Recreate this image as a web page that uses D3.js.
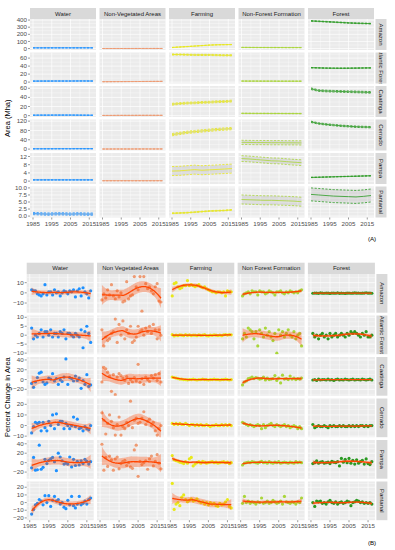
<!DOCTYPE html>
<html>
<head>
<meta charset="utf-8">
<script src="https://cdnjs.cloudflare.com/ajax/libs/d3/7.8.5/d3.min.js"></script>
<style>
  body { margin: 0; background: #fff; }
  svg { display: block; font-family: "Liberation Sans", Arial, sans-serif; }
</style>
</head>
<body>
<svg width="395" height="550"></svg>
<script>
var biomes = ["Amazon", "Atlantic Forest", "Caatinga", "Cerrado", "Pampa", "Pantanal"];
var classesA = ["Water", "Non-Vegetated Areas", "Farming", "Non-Forest Formation", "Forest"];
var classesB = ["Water", "Non Vegetated Areas", "Farming", "Non Forest Formation", "Forest"];
var classColors = ["#1E90FF", "#EE9A72", "#E8E81A", "#A9D63A", "#2A9A22"];

var yearsA = [1985, 1989, 1993, 1997, 2001, 2005, 2009, 2013, 2017];
var yearsB = [1986, 1987, 1988, 1989, 1990, 1991, 1992, 1993, 1994, 1995, 1996,
  1997, 1998, 1999, 2000, 2001, 2002, 2003, 2004, 2005, 2006, 2007, 2008, 2009,
  2010, 2011, 2012, 2013, 2014, 2015, 2016, 2017];

// (A) area in Mha, one row per class (water, non-veg, farming, non-forest, forest)
var amazonArea = [
  [9.8, 9.9, 10, 10.1, 10.2, 10.1, 10, 10.3, 10.2],
  [0.8, 0.9, 1, 1, 1.1, 1.2, 1.2, 1.3, 1.3],
  [15, 22, 28, 35, 42, 49, 53, 55, 56],
  [16, 15.5, 15, 15, 14.5, 14.5, 14, 14, 14],
  [388, 383, 377, 372, 366, 360, 356, 353, 350]
];
var atlanticArea = [
  [2.5, 2.6, 2.6, 2.7, 2.7, 2.7, 2.8, 2.8, 2.7],
  [1.0, 1.1, 1.2, 1.3, 1.4, 1.5, 1.6, 1.7, 1.8],
  [69, 69, 68.5, 68, 68, 68, 67.5, 67, 67],
  [2.6, 2.5, 2.5, 2.4, 2.4, 2.3, 2.3, 2.3, 2.3],
  [36, 35.5, 35, 34.8, 34.7, 34.8, 35, 35.3, 35.5]
];
var caatingaArea = [
  [1.0, 1.1, 1.1, 1.2, 1.2, 1.2, 1.1, 1.0, 0.9],
  [0.4, 0.4, 0.5, 0.5, 0.5, 0.6, 0.6, 0.6, 0.6],
  [25, 26.5, 27.5, 28, 29, 29.5, 30.5, 31, 32],
  [5, 4.9, 4.8, 4.8, 4.7, 4.7, 4.6, 4.6, 4.5],
  [59, 55, 54, 53.5, 53, 52.5, 52, 51.5, 51]
];
var cerradoArea = [
  [1.2, 1.3, 1.3, 1.4, 1.5, 1.5, 1.6, 1.6, 1.6],
  [0.4, 0.4, 0.5, 0.5, 0.5, 0.6, 0.6, 0.6, 0.7],
  [62, 67, 72, 75, 78, 81, 84, 86, 88],
  [29, 28.5, 28, 28, 27.5, 27.5, 27, 27, 26.5],
  [117, 110, 106, 103, 100, 98, 96, 95, 94]
];
var pampaArea = [
  [0.6, 0.6, 0.6, 0.6, 0.6, 0.6, 0.6, 0.6, 0.6],
  [0.2, 0.2, 0.2, 0.2, 0.2, 0.2, 0.2, 0.2, 0.2],
  [4.9, 5.0, 5.3, 5.6, 5.3, 5.5, 5.7, 5.9, 6.1],
  [11, 10.8, 10.5, 10.2, 9.9, 9.8, 9.5, 9.2, 9.0],
  [1.8, 1.9, 2.0, 2.1, 2.2, 2.3, 2.4, 2.5, 2.6]
];
var pantanalArea = [
  [0.9, 0.8, 0.7, 0.8, 0.8, 0.7, 0.8, 0.7, 0.7],
  [],
  [1.0, 1.1, 1.2, 1.4, 1.6, 1.8, 1.9, 2.0, 2.2],
  [5.9, 5.8, 5.7, 5.6, 5.6, 5.5, 5.4, 5.3, 5.1],
  [7.7, 7.5, 7.3, 7.1, 7.0, 6.9, 6.8, 7.0, 7.3]
];
// half width of the dashed band around each area line
var amazonBand = [0.5, 0.1, 2, 2, 5];
var atlanticBand = [0.2, 0.1, 1.5, 0.2, 0.6];
var caatingaBand = [0.2, 0.1, 2, 0.5, 1.8];
var cerradoBand = [0.2, 0.1, 5, 9, 3];
var pampaBand = [0.1, 0.05, 2.2, 1.4, 0.1];
var pantanalBand = [0.4, 0, 0.15, 1.6, 2.3];

// (B) annual percent change in area
var amazonChange = [
  [3, 2, 2, -1, -2, -3, -1, 8, -2, 1, 1, -2, 3, 0, 1, -3, 0, 2, 1, -1, 2, 1, 3, -4, 2, 4, -3, 5, 1, -1, -5, 2],
  [-7, -1, -5, 3, -2, 8, -3, -6, 2, -4, 0, -9, -8, 11, -6, -3, -2, 16, 6, 3, 16, -18, 16, 9, 4, 6, 2, -1, 6, 9, -8, -9],
  [-3, 9, 10, 6, 4, 5, 7, 7, 12, 7, 8, 7, 6, 7, 8, 6, 5, 6, 4, 3, 2, 1, 1, 0, 1, 1, 0, 1, -3, 2, 1, 1],
  [-3, -1, 0, 1, -1, 2, 1, 1, -2, 2, 1, 1, -1, 0, 2, 1, 0, -2, 1, 1, 2, 0, -1, 1, 0, 2, 1, 0, 1, 0, 2, 3],
  [-0.4, -0.2, -0.3, -0.5, -0.1, -0.3, -0.4, -0.2, -0.3, -0.6, -0.2, -0.3, -0.4, -0.1, -0.5, -0.3,
   -0.4, -0.6, -0.3, -0.2, -0.4, -0.3, -0.1, -0.3, -0.2, -0.4, -0.3, -0.2, 0.1, -0.3, -0.2, -0.4]
];
var atlanticChange = [
  [4, -2, 0, -1, 1, 3, -1, 2, 2, 0, 3, -1, 1, 1, -1, 2, 1, 3, -2, 1, 1, 0, -1, 1, 0, -1, 3, -7, 2, 5, 1, -4],
  [3, -6, -1, -3, -2, 1, 2, 9, -4, 6, 0, 8, -2, 3, 1, 5, -4, -3, -1, 5, 2, 3, 0, 4, 2, 5, 1, 6, 3, -2, 3, 0],
  [0.3, -0.4, 0.1, -0.2, 0.2, 0, -0.3, 0.4, -0.1, 0.2, -0.2, 0.1, 0, -0.3, 0.2, -0.1,
   0, 0.3, -0.2, -0.4, 0.1, -0.1, 0.2, 0, -0.2, 0.1, -0.3, 0.2, 0.4, 0.1, 0.3, 0.2],
  [-2, 1, -1, 4, 3, 2, -2, 2, -6, 3, 1, -1, 4, 0, 2, -1, -3, 1, -10, 3, 0, 2, -1, 1, 3, 0, -1, 2, -2, 0, 1, -6],
  [1, -1, 0, -2, 0, 1, -1, 0, -2, 1, -1, 0, 1, -1, 0, 1, 0, -1, 1, 0, 2, 1, 2, 1, 0, -1, 1, 0, 2, -1, -1, 0]
];
var caatingaChange = [
  [-8, -16, -5, 4, 13, 15, -5, -10, -7, 3, 1, 12, -3, 2, -10, 0, -4, 5, 42, -10, 4, 2, -3, 7, -2, 3, -18, -2, -10, 10, -14, -11],
  [-5, 25, 22, 15, 7, -24, 10, -31, 5, 12, 8, 3, -2, 6, -8, 0, -5, 4, -3, 31, -6, 2, -10, 5, 0, -4, 8, 3, 10, -2, 12, -5],
  [5, 4, 3, 2, 1, 1, 0, 0, -1, 0, 0, 1, 0, -1, 0, 0, 1, 0, 0, -1, 0, 0, 1, 0, 0, -1, 0, 0, 1, 0, -1, 0],
  [-11, -5, -3, 2, 3, 5, 2, 4, 3, 1, 2, 5, -1, 3, 0, 1, 2, 8, -2, 3, -7, 9, 1, 2, 0, 7, 1, 3, 0, 2, 1, 3],
  [-1, 0, -2, 1, -1, 0, 0, -1, 1, -1, 0, -2, 0, 1, -1, 0, -1, 1, 0, -1, 0, 1, -1, 0, 0, -1, 1, 0, -1, 0, 1, -1]
];
var cerradoChange = [
  [-7, -1, 3, 2, 3, -5, 3, -2, -5, 4, 0, 10, -3, 11, 1, 4, 4, -3, 2, 0, -3, 0, 8, -1, 6, -3, -2, -5, -1, -3, -4, 0],
  [12, 5, -8, 2, 10, 4, -2, -9, 1, 8, -9, -1, -3, 3, 0, 23, -2, 5, 7, 2, 3, 7, 13, 1, 4, 6, 0, 3, -5, -9, -3, 0],
  [2, 1, 2, 1, 2, 1, 1, 2, 1, 0, 1, 1, 0, 1, 0, 1, 0, 0, 1, 0, -1, 0, 0, 1, 0, 0, 1, 0, 1, 0, 1, 0],
  [3, 2, 1, 0, 1, 0, -1, 0, 1, 0, -3, 1, -2, 0, 1, 2, 0, -1, 1, 0, -1, 0, 1, -1, 0, -2, -1, 0, -1, -3, -1, -3],
  [1, -2, -1, 0, -1, -1, 0, -1, -2, 0, -1, 0, -1, -1, 0, -1, 0, -1, -1, 0, -1, 0, -1, 0, -1, 0, 0, -1, 0, -1, 0, 0]
];
var pampaChange = [
  [-11, 11, -16, -15, 37, -14, -10, 7, -2, 5, 8, 11, 2, -17, 20, 12, 4, -3, -1, -3, 12, -9, 7, -6, 3, -5, 4, -2, 7, 3, -3, 2],
  [39, -16, 11, -8, 14, 6, -16, 8, 12, -13, -2, 3, 5, -6, 0, -9, -12, 27, 37, -29, 3, -4, 0, 4, -14, 8, 14, -7, 3, 17, -1, -13],
  [15, 6, 4, 3, 1, 0, -2, 2, -1, 8, 11, -7, -3, 0, 2, -1, 3, 1, -1, 0, 1, 2, 0, 1, -1, 0, 1, 2, 0, 1, -2, 0],
  [-5, -1, 0, 1, 0, 2, 1, 0, -1, 1, 3, 0, 1, -1, 2, 0, -1, 1, 0, 2, -1, 0, 1, 0, -1, 1, 0, -1, 2, 0, 1, 0],
  [-2, 0, 4, -1, 1, 2, -1, 0, 1, -2, 3, 1, 0, 2, -7, 9, 1, 7, 0, 9, -1, 5, -3, 6, -1, 2, 5, -3, 8, -2, -4, 2]
];
var pantanalChange = [
  [-15, -9, -3, -1, 4, 2, -3, 9, 0, 9, -5, 3, 8, 2, 4, -2, 0, -6, -8, 3, -3, 8, -4, -7, -2, 8, -3, -1, 2, -2, 4, 6],
  [],
  [25, -9, -2, 0, -4, 7, 10, 4, 1, 3, 5, 2, 3, 5, 2, 0, 1, -2, 0, -3, 0, -2, -1, -4, -5, -1, -3, -2, 1, 4, -5, -7],
  [-1, 8, 0, 2, -1, 1, 0, -2, 1, 0, 6, -1, 0, 2, -1, 0, 3, 1, -1, 0, 2, -2, 8, 1, 0, -1, 1, 0, -2, 1, 0, 6],
  [0, -5, 2, 1, 2, -1, 0, -2, 1, 3, 0, -1, 1, -2, 0, 1, -1, 0, 2, 1, -4, 0, 1, 3, 2, 0, 1, -1, 0, -1, 0, -2]
];

var areaRows = [amazonArea, atlanticArea, caatingaArea, cerradoArea, pampaArea, pantanalArea];
var bandRows = [amazonBand, atlanticBand, caatingaBand, cerradoBand, pampaBand, pantanalBand];
var changeRows = [amazonChange, atlanticChange, caatingaChange, cerradoChange, pampaChange, pantanalChange];

var areaDomains = [[-20, 415], [-3.5, 74], [-3, 65], [-6, 127], [-1.4, 13.7], [-0.5, 10.5]];
var areaTicks = [[0, 100, 200, 300, 400], [0, 20, 40, 60], [0, 20, 40, 60], [0, 40, 80, 120], [0, 4, 8, 12], [0, 2.5, 5, 7.5, 10]];
var changeDomains = [[-19.5, 18.5], [-10.6, 11], [-33, 46], [-11, 25.5], [-34, 48], [-23, 27.5]];
var changeTicks = [[-10, 0, 10], [-10, -5, 0, 5, 10], [-20, 0, 20, 40], [-10, 0, 10, 20], [-20, 0, 20, 40], [-20, -10, 0, 10, 20]];
var yearTicks = [1985, 1995, 2005, 2015];
var yearMinor = [1990, 2000, 2010];

var svg = d3.select("svg");
var defs = svg.append("defs");

function inv3(m) {
    var a = m[0][0], b = m[0][1], c = m[0][2],
        d = m[1][0], e = m[1][1], f = m[1][2],
        g = m[2][0], h = m[2][1], k = m[2][2];
    var A = e * k - f * h, B = -(d * k - f * g), C = d * h - e * g;
    var det = a * A + b * B + c * C;
    return [A / det, -(b * k - c * h) / det, (b * f - c * e) / det];
}

// weights of a local quadratic fit (loess, span 0.75) at x0
function smootherRow(xs, x0) {
    var q = Math.floor(0.75 * xs.length);
    var d = xs.map(function (x) { return Math.abs(x - x0); });
    var dq = d.slice().sort(d3.ascending)[q - 1];
    var w = d.map(function (v) {
        var u = v / dq;
        return u < 1 ? Math.pow(1 - u * u * u, 3) : 0;
    });
    var S = [[0, 0, 0], [0, 0, 0], [0, 0, 0]];
    xs.forEach(function (x, i) {
        var t = (x - x0) / 10, b = [1, t, t * t];
        for (var j = 0; j < 3; j++)
            for (var k = 0; k < 3; k++) S[j][k] += w[i] * b[j] * b[k];
    });
    var r0 = inv3(S);
    return xs.map(function (x, i) {
        var t = (x - x0) / 10;
        return w[i] * (r0[0] + r0[1] * t + r0[2] * t * t);
    });
}

function loessFit(xs, ys) {
    var n = xs.length;
    var L = xs.map(function (x) { return smootherRow(xs, x); });
    var fitted = L.map(function (l) { return d3.sum(l, function (v, j) { return v * ys[j]; }); });
    var rss = d3.sum(ys, function (y, i) { return (y - fitted[i]) * (y - fitted[i]); });
    var delta1 = 0;
    for (var i = 0; i < n; i++)
        for (var j = 0; j < n; j++) {
            var m = (i === j ? 1 : 0) - L[i][j];
            delta1 += m * m;
        }
    var sigma = Math.sqrt(rss / delta1);
    var x0 = xs[0], x1 = xs[n - 1];
    return d3.range(81).map(function (i) {
        var x = x0 + i * (x1 - x0) / 80;
        var l = smootherRow(xs, x);
        var yhat = d3.sum(l, function (v, j) { return v * ys[j]; });
        var se = sigma * Math.sqrt(d3.sum(l, function (v) { return v * v; }));
        return {x: x, y: yhat, lo: yhat - 2.05 * se, hi: yhat + 2.05 * se};
    });
}

function minorOf(ticks, domain) {
    var step = ticks[1] - ticks[0], out = [];
    for (var i = -1; i < ticks.length; i++) {
        var v = ticks[0] + (i + 0.5) * step;
        if (v > domain[0] && v < domain[1]) out.push(v);
    }
    return out;
}

function drawFacets(cfg) {
    var x = d3.scaleLinear().domain([1983.4, 2018.6]).range([0, cfg.colW]);
    var clipId = "clip" + cfg.name;
    defs.append("clipPath").attr("id", clipId)
        .append("rect").attr("width", cfg.colW).attr("height", cfg.rowH);
    var stripClip = "strip" + cfg.name;
    defs.append("clipPath").attr("id", stripClip)
        .append("rect").attr("width", 11).attr("height", cfg.rowH);

    var colX = function (c) { return cfg.left + c * (cfg.colW + cfg.colGap); };
    var rowY = function (r) { return cfg.top + r * (cfg.rowH + cfg.rowGap); };

    // column strips
    cfg.classes.forEach(function (name, c) {
        var g = svg.append("g").attr("transform", "translate(" + colX(c) + "," + (cfg.top - cfg.stripH) + ")");
        g.append("rect").attr("width", cfg.colW).attr("height", cfg.stripH).attr("fill", "#d9d9d9");
        g.append("text").attr("x", cfg.colW / 2).attr("y", cfg.stripH / 2 + 2)
            .attr("text-anchor", "middle").attr("font-size", 6).attr("fill", "#1a1a1a").text(name);
    });

    biomes.forEach(function (biome, r) {
        var y = d3.scaleLinear().domain(cfg.domains[r]).range([cfg.rowH, 0]);
        var ticks = cfg.ticks[r];
        var minor = minorOf(ticks, cfg.domains[r]);
        var fmt = ticks.some(function (t) { return t % 1 !== 0; }) ? d3.format(".1f") : d3.format("d");

        cfg.classes.forEach(function (cls, c) {
            var g = svg.append("g").attr("transform", "translate(" + colX(c) + "," + rowY(r) + ")");
            g.append("rect").attr("width", cfg.colW).attr("height", cfg.rowH).attr("fill", "#ebebeb");
            g.selectAll(".ymin").data(minor).enter().append("line")
                .attr("x2", cfg.colW).attr("y1", y).attr("y2", y)
                .attr("stroke", "#fff").attr("stroke-width", 0.35);
            g.selectAll(".xmin").data(yearMinor).enter().append("line")
                .attr("x1", x).attr("x2", x).attr("y2", cfg.rowH)
                .attr("stroke", "#fff").attr("stroke-width", 0.35);
            g.selectAll(".ymaj").data(ticks).enter().append("line")
                .attr("x2", cfg.colW).attr("y1", y).attr("y2", y)
                .attr("stroke", "#fff").attr("stroke-width", 0.7);
            g.selectAll(".xmaj").data(yearTicks).enter().append("line")
                .attr("x1", x).attr("x2", x).attr("y2", cfg.rowH)
                .attr("stroke", "#fff").attr("stroke-width", 0.7);

            var layer = g.append("g").attr("clip-path", "url(#" + clipId + ")");
            cfg.drawCell(layer, r, c, x, y);

            // y axis on first column
            if (c === 0) {
                var ax = svg.append("g").attr("transform", "translate(" + colX(0) + "," + rowY(r) + ")");
                ax.selectAll("line").data(ticks).enter().append("line")
                    .attr("x1", -2).attr("x2", 0).attr("y1", y).attr("y2", y)
                    .attr("stroke", "#333").attr("stroke-width", 0.5);
                ax.selectAll("text").data(ticks).enter().append("text")
                    .attr("x", -3).attr("y", function (d) { return y(d) + 2.1; })
                    .attr("text-anchor", "end").attr("font-size", 6.2).attr("fill", "#4d4d4d")
                    .text(fmt);
            }
            // x axis on last row
            if (r === biomes.length - 1) {
                var bx = svg.append("g").attr("transform", "translate(" + colX(c) + "," + (rowY(r) + cfg.rowH) + ")");
                bx.selectAll("line").data(yearTicks).enter().append("line")
                    .attr("x1", x).attr("x2", x).attr("y1", 0).attr("y2", 2)
                    .attr("stroke", "#333").attr("stroke-width", 0.5);
                bx.selectAll("text").data(yearTicks).enter().append("text")
                    .attr("x", x).attr("y", 8.2)
                    .attr("text-anchor", "middle").attr("font-size", 6.2).attr("fill", "#4d4d4d")
                    .text(function (d) { return d; });
            }
        });

        // row strip
        var sx = colX(cfg.classes.length - 1) + cfg.colW + 1.5;
        var sg = svg.append("g").attr("transform", "translate(" + sx + "," + rowY(r) + ")");
        sg.append("rect").attr("width", 11).attr("height", cfg.rowH).attr("fill", "#d9d9d9");
        sg.append("g").attr("clip-path", "url(#" + stripClip + ")")
            .append("text")
            .attr("transform", "translate(3.4," + (cfg.rowH / 2) + ") rotate(90)")
            .attr("text-anchor", "middle").attr("font-size", 6).attr("fill", "#1a1a1a")
            .text(biome);
    });

    svg.append("text")
        .attr("transform", "translate(10," + (cfg.top + (6 * cfg.rowH + 5 * cfg.rowGap) / 2) + ") rotate(-90)")
        .attr("text-anchor", "middle").attr("font-size", 7.5).attr("fill", "#000")
        .text(cfg.title);
}

// (A) area lines with dashed bands
drawFacets({
    name: "A", left: 30, top: 19, colW: 66, colGap: 3.5, rowH: 31, rowGap: 2.5, stripH: 11,
    classes: classesA, domains: areaDomains, ticks: areaTicks, title: "Area (Mha)",
    drawCell: function (layer, r, c, x, y) {
        var vals = areaRows[r][c];
        if (!vals.length) return;
        var hw = bandRows[r][c];
        var pts = vals.map(function (v, i) { return {year: yearsA[i], v: v}; });
        var col = classColors[c];
        layer.append("path").datum(pts)
            .attr("d", d3.area().x(function (d) { return x(d.year); })
                .y0(function (d) { return y(d.v - hw); }).y1(function (d) { return y(d.v + hw); }))
            .attr("fill", "#999").attr("fill-opacity", 0.22);
        [-hw, hw].forEach(function (off) {
            layer.append("path").datum(pts)
                .attr("d", d3.line().x(function (d) { return x(d.year); }).y(function (d) { return y(d.v + off); }))
                .attr("fill", "none").attr("stroke", col).attr("stroke-width", 0.8)
                .attr("stroke-dasharray", "2.2,1.4");
        });
        layer.append("path").datum(pts)
            .attr("d", d3.line().x(function (d) { return x(d.year); }).y(function (d) { return y(d.v); }))
            .attr("fill", "none").attr("stroke", col).attr("stroke-width", 0.8);
    }
});

// (B) percent change points with loess smooth
drawFacets({
    name: "B", left: 26.7, top: 274, colW: 67, colGap: 3.3, rowH: 38.7, rowGap: 2.8, stripH: 11.3,
    classes: classesB, domains: changeDomains, ticks: changeTicks, title: "Percent Change in Area",
    drawCell: function (layer, r, c, x, y) {
        var vals = changeRows[r][c];
        if (!vals.length) return;
        layer.selectAll("circle").data(vals).enter().append("circle")
            .attr("cx", function (d, i) { return x(yearsB[i]); })
            .attr("cy", function (d) { return y(d); })
            .attr("r", 1.6).attr("fill", classColors[c]);
        var fit = loessFit(yearsB, vals);
        layer.append("path").datum(fit)
            .attr("d", d3.area().x(function (d) { return x(d.x); })
                .y0(function (d) { return y(d.lo); }).y1(function (d) { return y(d.hi); }))
            .attr("fill", "#ff4500").attr("fill-opacity", 0.33);
        layer.append("path").datum(fit)
            .attr("d", d3.line().x(function (d) { return x(d.x); }).y(function (d) { return y(d.y); }))
            .attr("fill", "none").attr("stroke", "#ff4500").attr("stroke-width", 1.3);
    }
});

svg.append("text").attr("x", 372).attr("y", 241).attr("text-anchor", "middle")
    .attr("font-size", 6.2).attr("fill", "#000").text("(A)");
svg.append("text").attr("x", 372).attr("y", 545).attr("text-anchor", "middle")
    .attr("font-size", 6.2).attr("fill", "#000").text("(B)");
</script>
</body>
</html>
